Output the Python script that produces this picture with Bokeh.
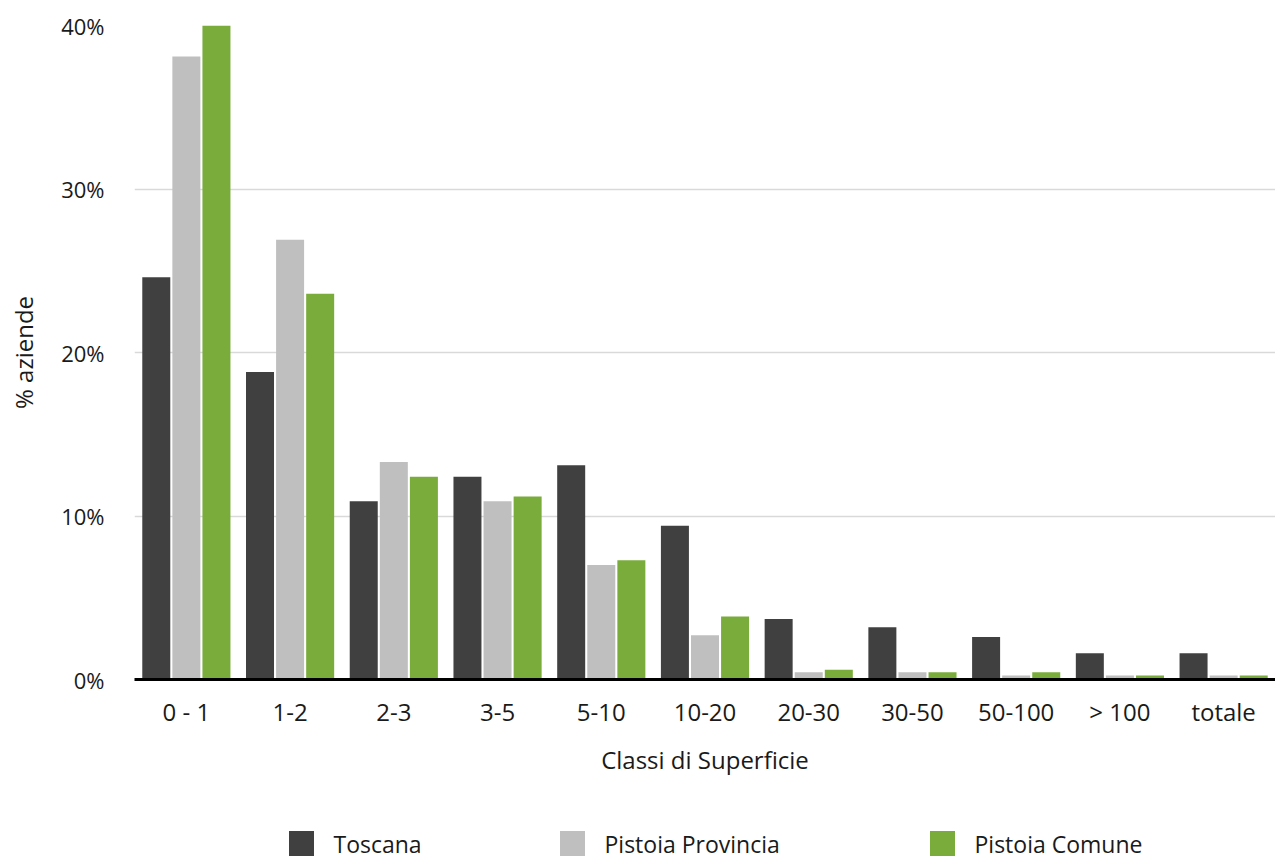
from bokeh.plotting import figure
from bokeh.models import ColumnDataSource, FactorRange, Range1d, NumeralTickFormatter, FixedTicker
from bokeh.layouts import column
from bokeh.transform import dodge
from bokeh.core.properties import value
from bokeh.embed import file_html
from bokeh.resources import INLINE

categories = ["0 - 1", "1-2", "2-3", "3-5", "5-10", "10-20", "20-30", "30-50", "50-100", "> 100", "totale"]
toscana = [24.6, 18.8, 10.9, 12.4, 13.1, 9.4, 3.7, 3.2, 2.6, 1.6, 1.6]
provincia = [38.1, 26.9, 13.3, 10.9, 7.0, 2.7, 0.45, 0.45, 0.25, 0.25, 0.25]
comune = [40.0, 23.6, 12.4, 11.2, 7.3, 3.85, 0.6, 0.45, 0.45, 0.25, 0.25]
series_names = ["Toscana", "Pistoia Provincia", "Pistoia Comune"]
colors = ["#404040", "#BFBFBF", "#7AAC3C"]

src = ColumnDataSource(dict(
    cat=categories,
    t=[v / 100 for v in toscana],
    p=[v / 100 for v in provincia],
    c=[v / 100 for v in comune],
))

FONT = "Open Sans"
TXT = "#1a1a1a"
W = 1275
H_MAIN = 779
H_LEG = 79
LEFT = 134

p = figure(
    x_range=FactorRange(*categories, range_padding=0),
    y_range=Range1d(0, 0.40),
    width=W, height=H_MAIN,
    output_backend="svg", toolbar_location=None,
    min_border_left=LEFT, min_border_right=0, min_border_top=25, min_border_bottom=100,
)
p.outline_line_color = None

p.vbar(x=dodge("cat", -0.29, range=p.x_range), top="t", width=0.27, source=src,
       fill_color=colors[0], line_color=None)
p.vbar(x=dodge("cat", 0.0, range=p.x_range), top="p", width=0.27, source=src,
       fill_color=colors[1], line_color=None)
p.vbar(x=dodge("cat", 0.29, range=p.x_range), top="c", width=0.27, source=src,
       fill_color=colors[2], line_color=None)

# y axis
p.yaxis.ticker = FixedTicker(ticks=[0, 0.1, 0.2, 0.3, 0.4])
p.yaxis.formatter = NumeralTickFormatter(format="0%")
p.yaxis.axis_line_color = None
p.yaxis.major_tick_line_color = None
p.yaxis.minor_tick_line_color = None
p.yaxis.major_label_text_font = FONT
p.yaxis.major_label_text_font_size = "22px"
p.yaxis.major_label_text_color = TXT
p.yaxis.major_label_standoff = 24
p.yaxis.axis_label = "% aziende"
p.yaxis.axis_label_text_font = FONT
p.yaxis.axis_label_text_font_size = "24px"
p.yaxis.axis_label_text_font_style = "normal"
p.yaxis.axis_label_text_color = TXT
p.yaxis.axis_label_standoff = 18

# x axis
p.xaxis.axis_line_color = "black"
p.xaxis.axis_line_width = 3
p.xaxis.major_tick_line_color = None
p.xaxis.minor_tick_line_color = None
p.xaxis.major_label_text_font = FONT
p.xaxis.major_label_text_font_size = "24px"
p.xaxis.major_label_text_color = TXT
p.xaxis.major_label_standoff = 9
p.xaxis.axis_label = "Classi di Superficie"
p.xaxis.axis_label_text_font = FONT
p.xaxis.axis_label_text_font_size = "24px"
p.xaxis.axis_label_text_font_style = "normal"
p.xaxis.axis_label_text_color = TXT
p.xaxis.axis_label_standoff = 12

p.xgrid.grid_line_color = None
p.ygrid.grid_line_color = "#D9D9D9"
p.ygrid.grid_line_width = 1.5

# legend strip: its frame is aligned with the main frame, so data units = page pixels
leg_x = [301, 572, 942]   # swatch centres (layout, page px)
leg_y = 15
leg = figure(width=W, height=H_LEG, x_range=Range1d(LEFT, W), y_range=Range1d(0, H_LEG),
             x_axis_location=None, y_axis_location=None,
             output_backend="svg", toolbar_location=None,
             min_border_left=LEFT, min_border_right=0, min_border_top=0, min_border_bottom=0)
leg.grid.visible = False
leg.outline_line_color = None
lsrc = ColumnDataSource(dict(x=leg_x, y=[leg_y] * 3, tx=[x + 32 for x in leg_x],
                             name=series_names, color=colors))
leg.rect(x="x", y="y", width=25, height=25, fill_color="color", line_color=None, source=lsrc)
leg.text(x="tx", y="y", text="name", text_font=value(FONT), text_font_size="23px",
         text_color=TXT, text_baseline="middle", text_align="left", source=lsrc)

open("out.html", "w").write(file_html(column(p, leg, spacing=0), INLINE))
